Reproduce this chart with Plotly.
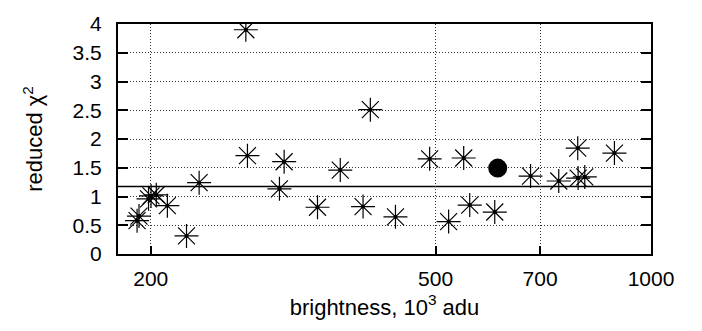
import plotly.graph_objects as go

# Star sources: brightness (10^3 adu) and reduced chi-square of the fit
brightness = [191.4, 192.6, 198.6, 200.2, 203.6, 211.0, 224.4, 233.7, 271.6, 273.0,
              307.2, 302.6, 342.0, 368.0, 396.0, 405.4, 439.5, 490.6, 521.5, 547.4,
              558.1, 604.9, 678.8, 743.2, 790.0, 791.0, 808.1, 889.0]
chi2 = [0.58, 0.66, 0.96, 1.01, 1.03, 0.84, 0.315, 1.24, 3.90, 1.71,
        1.605, 1.134, 0.813, 1.46, 0.825, 2.51, 0.647, 1.655, 0.564, 1.67,
        0.851, 0.73, 1.355, 1.27, 1.84, 1.32, 1.34, 1.755]

# Highlighted source
special_brightness = [610.7]
special_chi2 = [1.494]

# Reference level of reduced chi-square
chi2_level = 1.173

x_ticks = [200, 500, 700, 1000]
y_ticks = [0, 0.5, 1, 1.5, 2, 2.5, 3, 3.5, 4]
y_tick_text = ["0", "0.5", "1", "1.5", "2", "2.5", "3", "3.5", "4"]

font = dict(family="Liberation Sans, Arial, Helvetica, sans-serif", size=21, color="black")
title_font = dict(family="Liberation Sans, Arial, Helvetica, sans-serif", size=22, color="black")

fig = go.Figure()

fig.add_hline(y=chi2_level, line=dict(color="black", width=1.5), layer="below")

fig.add_trace(go.Scatter(
    x=brightness, y=chi2, mode="markers",
    marker=dict(symbol="asterisk-open", size=20, color="black",
                line=dict(color="black", width=1.2)),
    showlegend=False, hoverinfo="x+y"))
fig.add_trace(go.Scatter(
    x=brightness, y=chi2, mode="markers",
    marker=dict(symbol="circle", size=4, color="black"),
    showlegend=False, hoverinfo="skip"))
fig.add_trace(go.Scatter(
    x=special_brightness, y=special_chi2, mode="markers",
    marker=dict(symbol="circle", size=19, color="black"),
    showlegend=False, hoverinfo="x+y"))

fig.update_layout(
    width=702, height=331,
    margin=dict(l=118, r=51, t=13, b=77),
    paper_bgcolor="white", plot_bgcolor="white",
    font=font,
)

fig.update_xaxes(
    type="log", range=[2.2553, 3.0],
    tickvals=x_ticks, ticktext=[str(v) for v in x_ticks],
    ticks="inside", ticklen=8, tickwidth=2, tickcolor="black",
    ticklabelstandoff=5,
    showline=True, linewidth=2, linecolor="black", mirror=True,
    showgrid=True, gridcolor="#333333", gridwidth=1, griddash="1px,2px",
    zeroline=False, tickfont=font,
    title=dict(text="brightness, 10<sup>3</sup> adu", font=title_font, standoff=10),
)
fig.update_yaxes(
    range=[0, 4],
    tickvals=y_ticks, ticktext=y_tick_text,
    ticks="inside", ticklen=10, tickwidth=2, tickcolor="black",
    ticklabelstandoff=10,
    showline=True, linewidth=2, linecolor="black", mirror="ticks",
    showgrid=True, gridcolor="#333333", gridwidth=1, griddash="1px,2px",
    zeroline=False, tickfont=font,
    title=dict(text="reduced χ<sup>2</sup>", font=title_font, standoff=24),
)

fig.write_html("out.html")
